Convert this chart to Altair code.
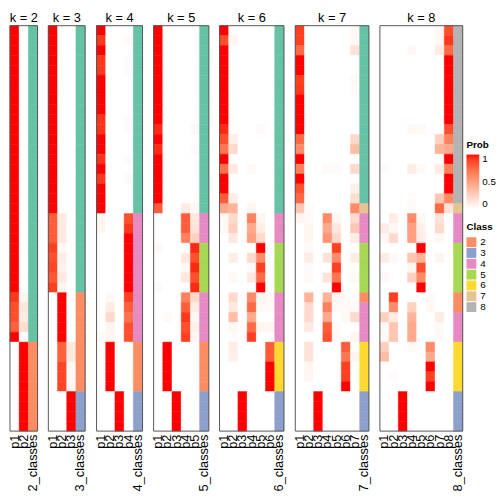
import altair as alt
import pandas as pd

FONT = "Liberation Sans"

CLASS_DOMAIN = ["1", "2", "3", "4", "5", "6", "7", "8"]
CLASS_COLORS = ["#66C2A5", "#FC8D62", "#8DA0CB", "#E78AC3", "#A6D854", "#FFD92F", "#E5C494", "#B3B3B3"]
LEGEND_CLASSES = ["2", "3", "4", "5", "6", "7", "8"]
PROB_TICKS = [0, 0.5, 1]

# ---- k = 2 ----
K2_PROB = ([[1, 0]] * 27 +
           [[0.92, 0.05], [0.85, 0.12], [0.85, 0.10], [0.78, 0.18], [1, 0]] +
           [[0, 1]] * 9)
K2_CLASS = [1] * 32 + [2] * 9

# ---- k = 3 ----
K3_PROB = ([[1, 0, 0]] * 19 +
           [[0.8, 0.12, 0], [0.8, 0.12, 0], [0.8, 0.12, 0], [0.9, 0.04, 0],
            [0.85, 0.10, 0], [0.88, 0.07, 0], [0.82, 0.12, 0], [0.9, 0.05, 0]] +
           [[0, 1, 0]] * 5 +
           [[0, 0.78, 0.12], [0, 0.78, 0.12], [0, 0.88, 0.04], [0, 0.88, 0.04], [0, 0.88, 0.04]] +
           [[0, 0, 1]] * 4)
K3_CLASS = [1] * 27 + [2] * 10 + [3] * 4

# ---- k = 4 ----
K4_PROB = ([[1, 0, 0, 0], [0.92, 0, 0, 0.03], [1, 0, 0, 0], [0.92, 0, 0, 0.02], [0.92, 0, 0, 0.02]] +
           [[1, 0, 0, 0]] * 4 +
           [[0.93, 0, 0, 0.02], [0.93, 0, 0, 0.02], [1, 0, 0, 0], [1, 0, 0, 0],
            [0.93, 0, 0, 0.02], [1, 0, 0, 0], [0.92, 0, 0, 0.03]] +
           [[1, 0, 0, 0]] * 3 +
           [[0.05, 0, 0, 0.85], [0.05, 0, 0, 0.92]] +
           [[0, 0, 0, 1]] * 6 +
           [[0, 0.04, 0, 0.9], [0, 0.10, 0, 0.8], [0, 0.20, 0, 0.72], [0, 0.05, 0, 0.85],
            [0.03, 0.05, 0, 0.85]] +
           [[0, 1, 0, 0]] * 5 +
           [[0, 0, 1, 0]] * 4)
K4_CLASS = [1] * 19 + [4] * 13 + [2] * 5 + [3] * 4

# ---- k = 5 ----
K5_PROB = ([[1, 0, 0, 0, 0]] * 10 +
           [[0.95, 0, 0, 0, 0.03], [1, 0, 0, 0, 0], [0.95, 0, 0, 0, 0.03]] +
           [[1, 0, 0, 0, 0]] * 5 +
           [[0.8, 0, 0, 0.1, 0.04],
            [0, 0, 0, 0.8, 0.12], [0, 0, 0, 0.8, 0.15], [0, 0, 0, 0.65, 0.25],
            [0.03, 0, 0, 0, 0.95], [0, 0, 0, 0.12, 0.85], [0, 0, 0, 0.03, 0.95],
            [0, 0, 0, 0.12, 0.85], [0.03, 0, 0, 0, 0.95],
            [0, 0, 0, 0.65, 0.2], [0, 0, 0, 0.8, 0.1], [0, 0.03, 0, 0.92, 0.04],
            [0, 0, 0, 0.85, 0.08], [0, 0, 0, 0.9, 0.05]] +
           [[0, 1, 0, 0, 0]] * 5 +
           [[0, 0, 1, 0, 0]] * 4)
K5_CLASS = [1] * 19 + [4] * 3 + [5] * 5 + [4] * 5 + [2] * 5 + [3] * 4

# ---- k = 6 ----
K6_PROB = ([[1, 0, 0, 0, 0, 0], [0.85, 0.05, 0, 0, 0, 0]] +
           [[1, 0, 0, 0, 0, 0]] * 8 +
           [[0.95, 0, 0, 0, 0.03, 0], [0.85, 0.08, 0, 0, 0, 0], [0.7, 0.2, 0, 0, 0, 0],
            [1, 0, 0, 0, 0, 0], [0.72, 0.12, 0, 0.04, 0, 0], [1, 0, 0, 0, 0, 0],
            [1, 0, 0, 0, 0, 0], [0.8, 0.1, 0, 0, 0, 0], [0.45, 0.4, 0, 0.05, 0, 0],
            [0.04, 0.2, 0, 0.65, 0.05, 0], [0.04, 0.25, 0, 0.45, 0.1, 0], [0, 0.12, 0, 0.5, 0.2, 0],
            [0, 0, 0, 0, 1, 0], [0, 0.1, 0, 0.2, 0.6, 0], [0, 0, 0, 0.03, 0.9, 0],
            [0, 0.04, 0, 0.12, 0.75, 0], [0, 0, 0, 0, 1, 0],
            [0, 0.2, 0, 0.6, 0.05, 0.03], [0, 0.12, 0, 0.75, 0.03, 0.03], [0, 0.35, 0, 0.45, 0, 0],
            [0, 0.04, 0, 0.75, 0.05, 0.05], [0, 0.02, 0, 0.9, 0, 0],
            [0, 0.1, 0, 0, 0, 0.8], [0, 0.08, 0, 0, 0, 0.8]] +
           [[0, 0, 0, 0, 0, 1]] * 3 +
           [[0, 0, 1, 0, 0, 0]] * 4)
K6_CLASS = [1] * 19 + [4] * 3 + [5] * 5 + [4] * 5 + [6] * 5 + [3] * 4

# ---- k = 7 ----
K7_PROB = ([[0.9, 0, 0, 0, 0, 0, 0.04], [0.9, 0, 0, 0, 0, 0, 0.04], [0.75, 0, 0, 0, 0, 0, 0.15],
            [1, 0, 0, 0, 0, 0, 0], [1, 0, 0, 0, 0, 0, 0],
            [0.9, 0, 0, 0, 0, 0, 0.04], [0.92, 0, 0, 0, 0, 0, 0.02]] +
           [[1, 0, 0, 0, 0, 0, 0]] * 4 +
           [[0.75, 0, 0, 0, 0, 0, 0.2], [0.6, 0, 0, 0, 0, 0, 0.35], [1, 0, 0, 0, 0, 0, 0],
            [0.65, 0, 0, 0.03, 0.02, 0, 0.2], [1, 0, 0, 0, 0, 0, 0],
            [0.85, 0, 0, 0, 0, 0, 0.08], [0.75, 0, 0, 0, 0, 0, 0.18],
            [0.3, 0.03, 0, 0, 0, 0, 0.6],
            [0.05, 0.04, 0, 0.6, 0.05, 0, 0.2], [0, 0.05, 0, 0.45, 0.12, 0, 0.3],
            [0, 0.05, 0, 0.55, 0.2, 0, 0.1],
            [0, 0.03, 0, 0, 0.9, 0, 0], [0, 0.1, 0, 0.15, 0.6, 0, 0.1], [0, 0.02, 0, 0, 0.9, 0, 0],
            [0, 0.04, 0, 0.15, 0.7, 0, 0.04], [0, 0, 0, 0, 1, 0, 0],
            [0, 0.4, 0, 0.4, 0.05, 0.03, 0],
            [0, 0.2, 0, 0.65, 0.03, 0.03, 0.03], [0, 0.2, 0, 0.45, 0, 0.03, 0.2],
            [0, 0.12, 0, 0.8, 0.03, 0, 0], [0, 0, 0, 0.85, 0.03, 0, 0.05],
            [0, 0.15, 0, 0, 0, 0.8, 0], [0, 0.15, 0, 0, 0, 0.7, 0.05], [0, 0.05, 0, 0, 0, 0.9, 0],
            [0, 0.05, 0, 0, 0, 0.9, 0], [0, 0, 0, 0, 0, 1, 0]] +
           [[0, 0, 1, 0, 0, 0, 0]] * 4)
K7_CLASS = [1] * 18 + [7] + [4] * 3 + [5] * 5 + [2] + [4] * 4 + [6] * 5 + [3] * 4

# ---- k = 8 ----
K8_PROB = ([[0, 0, 0, 0, 0, 0, 0.04, 0.85], [0, 0, 0, 0, 0, 0, 0.04, 0.92],
            [0, 0, 0, 0.04, 0, 0, 0.1, 0.75]] +
           [[0, 0, 0, 0, 0, 0, 0, 1]] * 7 +
           [[0, 0, 0, 0.04, 0.04, 0, 0, 0.85], [0, 0, 0, 0, 0, 0, 0.25, 0.65],
            [0, 0, 0, 0, 0, 0, 0.4, 0.45], [0, 0, 0, 0, 0, 0, 0, 1],
            [0.02, 0, 0, 0.1, 0.03, 0, 0.1, 0.65], [0, 0, 0, 0, 0, 0, 0, 1],
            [0, 0, 0, 0, 0, 0, 0, 1], [0, 0, 0, 0.02, 0, 0, 0.3, 0.6],
            [0, 0, 0, 0.02, 0, 0, 0.75, 0.15],
            [0, 0.1, 0, 0.6, 0.04, 0, 0.15, 0], [0.1, 0.04, 0, 0.5, 0.08, 0, 0.2, 0],
            [0.04, 0.2, 0, 0.5, 0.1, 0, 0.04, 0],
            [0, 0, 0, 0, 1, 0, 0, 0], [0.1, 0.03, 0, 0.3, 0.4, 0, 0.05, 0],
            [0, 0, 0, 0.05, 0.85, 0, 0, 0], [0.04, 0, 0, 0.25, 0.6, 0, 0, 0],
            [0, 0, 0, 0, 1, 0, 0, 0],
            [0, 0.9, 0, 0, 0, 0.03, 0, 0], [0, 0.6, 0, 0.25, 0, 0.04, 0, 0],
            [0.25, 0.1, 0, 0.4, 0, 0, 0.1, 0], [0.03, 0.3, 0, 0.45, 0, 0, 0.03, 0],
            [0.03, 0.3, 0, 0.45, 0, 0, 0.03, 0],
            [0.25, 0, 0, 0.02, 0, 0.6, 0, 0], [0.35, 0, 0, 0, 0, 0.45, 0, 0],
            [0, 0, 0, 0, 0, 1, 0, 0], [0, 0.02, 0, 0, 0, 0.9, 0, 0], [0, 0, 0, 0, 0, 1, 0, 0]] +
           [[0, 0, 1, 0, 0, 0, 0, 0]] * 4)
K8_CLASS = [8] * 18 + [7] + [4] * 3 + [5] * 5 + [2] * 2 + [4] * 3 + [6] * 5 + [3] * 4

PANELS = [(2, K2_PROB, K2_CLASS), (3, K3_PROB, K3_CLASS), (4, K4_PROB, K4_CLASS),
          (5, K5_PROB, K5_CLASS), (6, K6_PROB, K6_CLASS), (7, K7_PROB, K7_CLASS),
          (8, K8_PROB, K8_CLASS)]

COL_W = 9.35
ROW_H = 10.05

prob_scale = alt.Scale(domain=[0, 1], range=["#ffffff", "#ff0000"], interpolate="lab")
class_scale = alt.Scale(domain=CLASS_DOMAIN, range=CLASS_COLORS)

prob_legend = alt.Legend(title="Prob", orient="none", legendX=464, legendY=116,
                         direction="vertical", gradientLength=55, gradientThickness=13,
                         values=PROB_TICKS, format="~g", labelFontSize=10, titleFontSize=10,
                         labelFont=FONT, titleFont=FONT, titlePadding=5, labelOverlap=False,
                         labelOffset=3)
class_legend = alt.Legend(title="Class", orient="none", legendX=464, legendY=200,
                          values=LEGEND_CLASSES, symbolType="square", symbolSize=100,
                          symbolStrokeWidth=0, labelFontSize=10, titleFontSize=10,
                          labelFont=FONT, titleFont=FONT, titlePadding=5, rowPadding=1,
                          labelOffset=4)

charts = []
for k, probs, classes in PANELS:
    cols = [f"p{j}" for j in range(1, k + 1)] + [f"{k}_classes"]
    n = len(probs)
    w = COL_W * len(cols)
    h = ROW_H * n
    prob_rows = []
    for r, vals in enumerate(probs):
        for j, v in enumerate(vals):
            prob_rows.append({"row": r, "col": f"p{j + 1}", "prob": v})
    class_rows = [{"row": r, "col": f"{k}_classes", "cls": str(c)} for r, c in enumerate(classes)]

    x_enc = alt.X("col:N", sort=cols,
                  scale=alt.Scale(domain=cols, paddingInner=0, paddingOuter=0),
                  axis=alt.Axis(title=None, labelAngle=-90, ticks=False, domain=False,
                                labelPadding=3, labelFontSize=13, labelFont=FONT,
                                labelColor="black"))
    y_enc = alt.Y("row:O", axis=None, scale=alt.Scale(paddingInner=0, paddingOuter=0))

    prob_layer = alt.Chart(pd.DataFrame(prob_rows)).mark_rect(strokeWidth=0.5).encode(
        x=x_enc, y=y_enc,
        fill=alt.Fill("prob:Q", scale=prob_scale, legend=prob_legend),
        stroke=alt.Stroke("prob:Q", scale=prob_scale, legend=None))
    class_layer = alt.Chart(pd.DataFrame(class_rows)).mark_rect(strokeWidth=0.5).encode(
        x=x_enc, y=y_enc,
        color=alt.Color("cls:N", scale=class_scale, legend=class_legend),
        stroke=alt.Stroke("cls:N", scale=class_scale, legend=None))
    border = alt.Chart(pd.DataFrame({"b": [0]})).mark_rect(
        fillOpacity=0, stroke="#555555", strokeWidth=1).encode(
        x=alt.value(0), x2=alt.value(w), y=alt.value(0), y2=alt.value(h))
    panel = alt.layer(prob_layer, class_layer, border).resolve_scale(stroke="independent").properties(
        width=w, height=h,
        title=alt.TitleParams(f"k = {k}", fontSize=13, font=FONT, fontWeight="normal",
                              offset=0, anchor="middle", color="black"))
    charts.append(panel)

chart = alt.hconcat(*charts, spacing=7).properties(
    padding={"left": 0, "top": 0, "right": 0, "bottom": 0}
).configure_view(strokeWidth=0).configure_legend(
    titleFontWeight="bold", labelColor="black", titleColor="black")

chart.save("out.html", embed_options={"renderer": "svg", "actions": False})
